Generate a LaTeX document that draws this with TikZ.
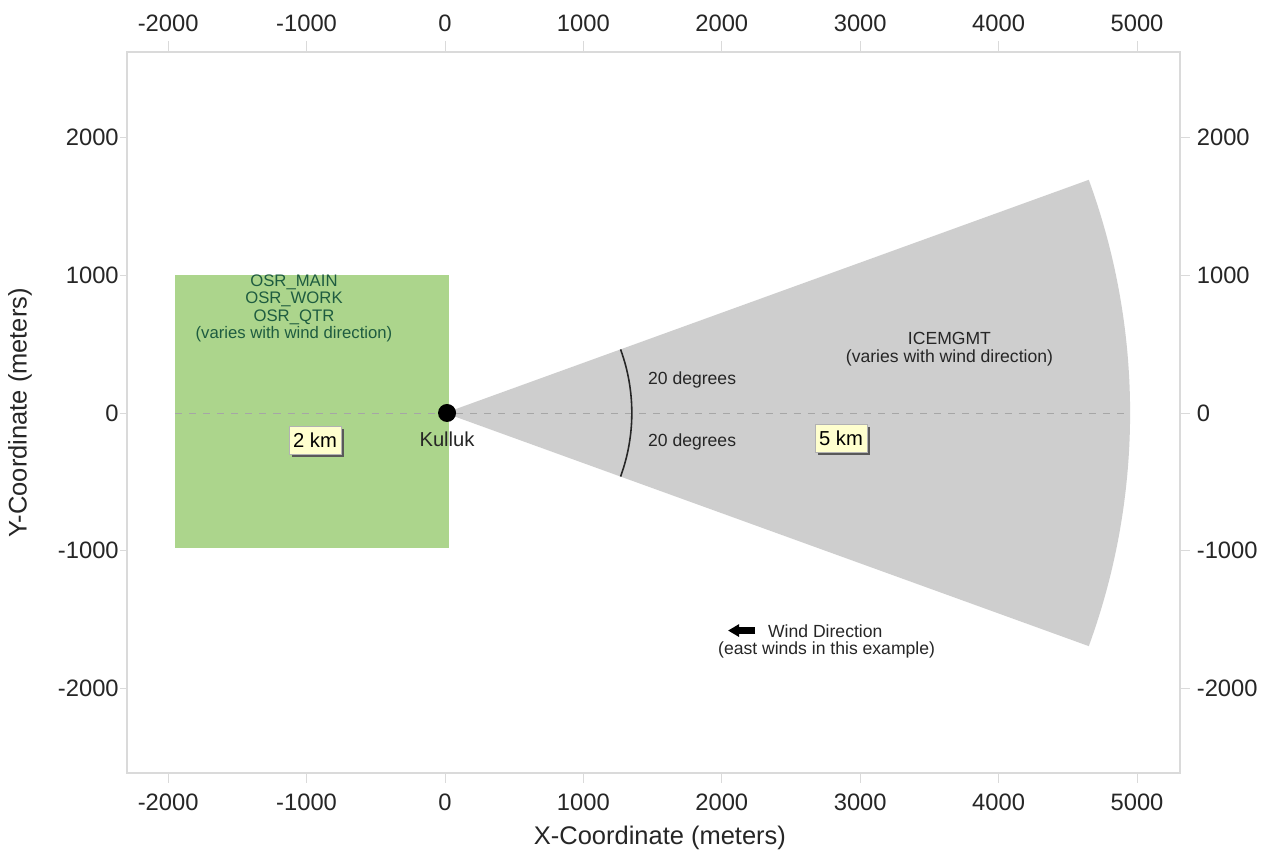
\documentclass[tikz,border=0pt]{standalone}
\usepackage{fontspec}
\setmainfont{Liberation Sans}
\usetikzlibrary{positioning,shadows,arrows.meta}
\definecolor{zonegreen}{RGB}{172,213,140}
\definecolor{zonegray}{RGB}{206,206,206}
\definecolor{labelgreen}{RGB}{30,92,64}
\definecolor{framegray}{RGB}{218,218,218}
\definecolor{kmyellow}{RGB}{255,255,206}
\tikzset{
  ticklabel/.style={inner sep=0pt, text=black!85, font=\fontsize{13.5}{14}\selectfont},
  axistitle/.style={text=black!85, font=\fontsize{14.5}{16}\selectfont},
  zonetext/.style={align=center, font=\fontsize{10}{10.5}\selectfont},
  degtext/.style={anchor=west, font=\fontsize{10}{11}\selectfont},
  kmbox/.style={rectangle, draw=black!30, fill=kmyellow, minimum height=0.56cm,
    inner xsep=0.8mm, inner ysep=0.5mm, font=\fontsize{11.5}{12}\selectfont,
    drop shadow={shadow xshift=0.6mm, shadow yshift=-0.6mm, fill=black!65, opacity=1}},
}
\begin{document}
\begin{tikzpicture}[x=2.768cm, y=2.754cm]
	\fill[white] (-3.215,-3.210) rectangle (5.932,2.999);
	\useasboundingbox (-3.215,-3.210) rectangle (5.932,2.999);
	%Frame and ticks:
	\draw[framegray, line width=1pt] (-2.30,-2.614) rectangle (5.31,2.622);
	\foreach \x/\lab in {-2/-2000,-1/-1000,0/0,1/1000,2/2000,3/3000,4/4000,5/5000}{
		\draw[framegray] (\x,2.622) -- (\x,2.70);
		\draw[framegray] (\x,-2.614) -- (\x,-2.69);
		\node[ticklabel] (top\x) at (\x,2.832) {\lab};
		\node[ticklabel] (bot\x) at (\x,-2.825) {\lab};
	}
	\foreach \y/\lab in {-2/-2000,-1/-1000,0/0,1/1000,2/2000}{
		\draw[framegray] (-2.30,\y) -- (-2.35,\y);
		\draw[framegray] (5.31,\y) -- (5.38,\y);
		\node[ticklabel, anchor=east] (left\y) at (-2.355,\y) {\lab};
		\node[ticklabel, anchor=west] (right\y) at (5.43,\y) {\lab};
	}
	\node[axistitle] (xtitle) at (1.553,-3.086) {X-Coordinate (meters)};
	\node[axistitle, rotate=90] (ytitle) at (-3.07,0) {Y-Coordinate (meters)};
	%Zones:
	\fill[zonegreen] (-1.95,-0.98) rectangle (0.03,1.0);
	\fill[zonegray] (0,0) -- (-20:4.95) arc[start angle=-20, end angle=20, radius=4.95] -- cycle;
	\draw[black!35, dash pattern=on 4pt off 4pt] (-1.95,0) -- (4.93,0);
	\draw[black!85, line width=0.9pt] (-20:1.35) arc[start angle=-20, end angle=20, radius=1.35];
	%Nodes:
	\node[circle, fill=black, minimum size=0.36cm, inner sep=0pt] (kulluk) at (0.015,0) {};
	\node[below=0.06cm of kulluk, text=black!85, font=\fontsize{11.5}{12}\selectfont] (kullukname) {Kulluk};
	\node[zonetext, text=labelgreen, font=\fontsize{9.5}{9.8}\selectfont] (osrtext) at (-1.091,0.76)
		{OSR\_MAIN\\OSR\_WORK\\OSR\_QTR\\(varies with wind direction)};
	\node[zonetext, text=black!85] (icetext) at (3.645,0.465) {ICEMGMT\\(varies with wind direction)};
	\node[degtext, text=black!85] (degup) at (1.423,0.24) {20 degrees};
	\node[degtext, text=black!85] (deglow) at (1.423,-0.21) {20 degrees};
	\node[kmbox] (twokm) at (-0.939,-0.196) {2 km};
	\node[kmbox] (fivekm) at (2.861,-0.182) {5 km};
	\coordinate (windtail) at (2.24,-1.58);
	\coordinate (windhead) at (2.045,-1.58);
	\node[degtext, text=black!85] (windname) at (2.29,-1.583) {Wind Direction};
	\node[zonetext, text=black!85] (windnote) at (2.757,-1.721) {(east winds in this example)};
	%Edges:
	\draw[-{Triangle[length=0.22cm, width=0.24cm]}, line width=3.5pt] (windtail) -- (windhead);
\end{tikzpicture}
\end{document}
